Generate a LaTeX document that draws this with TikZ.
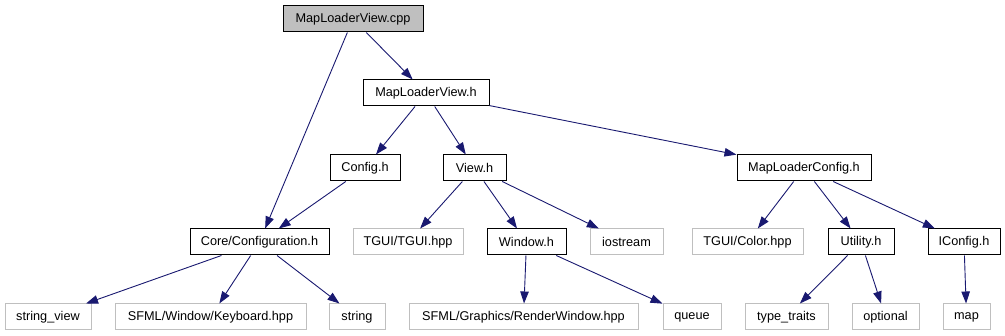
\documentclass[tikz,border=0pt]{standalone}
\usepackage{fontspec}
\setmainfont{Liberation Sans}
\usetikzlibrary{arrows.meta}
\definecolor{edgeblue}{HTML}{191970}
\definecolor{extgray}{HTML}{BFBFBF}
\tikzset{
  x=1pt, y=-1pt,
  filebox/.style={draw=black, line width=1pt, minimum height=26pt, inner sep=0pt,
    font=\fontsize{12.7}{14}\selectfont, text=black},
  doc/.style={filebox},
  ext/.style={filebox, draw=extgray},
  root/.style={filebox, fill=extgray},
  dep/.style={draw=edgeblue, line width=0.9pt,
    -{Triangle[length=12pt,width=8.5pt]}},
}
\begin{document}
\begin{tikzpicture}
\useasboundingbox (0,0) rectangle (1005,336);
% top levels
\node[root, minimum width=140pt] (cpp) at (353,19) {MapLoaderView.cpp};
\node[doc, minimum width=126pt] (mlvh) at (426,93) {MapLoaderView.h};
\node[doc, minimum width=70pt] (config) at (365,168) {Config.h};
\node[doc, minimum width=63pt] (view) at (474.5,168) {View.h};
\node[doc, minimum width=134pt] (mlc) at (804,168) {MapLoaderConfig.h};
% third row
\node[doc, minimum width=139pt] (core) at (259.5,242) {Core/Configuration.h};
\node[ext, minimum width=110pt] (tgui) at (408,242) {TGUI/TGUI.hpp};
\node[doc, minimum width=79pt] (window) at (526.5,242) {Window.h};
\node[ext, minimum width=73pt] (iostream) at (626.5,242) {iostream};
\node[ext, minimum width=111pt] (color) at (747.5,242) {TGUI/Color.hpp};
\node[doc, minimum width=66pt] (utility) at (861,242) {Utility.h};
\node[doc, minimum width=72pt] (iconfig) at (964,242) {IConfig.h};
% bottom row
\node[ext, minimum width=86pt] (sview) at (48,317) {string\_view};
\node[ext, minimum width=191pt] (keyboard) at (210.5,317) {SFML/Window/Keyboard.hpp};
\node[ext, minimum width=56pt] (string) at (357,317) {string};
\node[ext, minimum width=229pt] (rwin) at (523.5,317) {SFML/Graphics/RenderWindow.hpp};
\node[ext, minimum width=58pt] (queue) at (692,317) {queue};
\node[ext, minimum width=83pt] (traits) at (786.5,317) {type\_traits};
\node[ext, minimum width=67pt] (optional) at (885.5,317) {optional};
\node[ext, minimum width=47pt] (map) at (966.5,317) {map};
% include edges
\draw[dep] (cpp) -- (mlvh);
\draw[dep] (cpp) -- (core);
\draw[dep] (mlvh) -- (config);
\draw[dep] (mlvh) -- (view);
\draw[dep] (mlvh) -- (mlc);
\draw[dep] (config) -- (core);
\draw[dep] (view) -- (tgui);
\draw[dep] (view) -- (window);
\draw[dep] (view) -- (iostream);
\draw[dep] (mlc) -- (color);
\draw[dep] (mlc) -- (utility);
\draw[dep] (mlc) -- (iconfig);
\draw[dep] (core) -- (sview);
\draw[dep] (core) -- (keyboard);
\draw[dep] (core) -- (string);
\draw[dep] (window) -- (rwin);
\draw[dep] (window) -- (queue);
\draw[dep] (utility) -- (traits);
\draw[dep] (utility) -- (optional);
\draw[dep] (iconfig) -- (map);
\end{tikzpicture}
\end{document}
